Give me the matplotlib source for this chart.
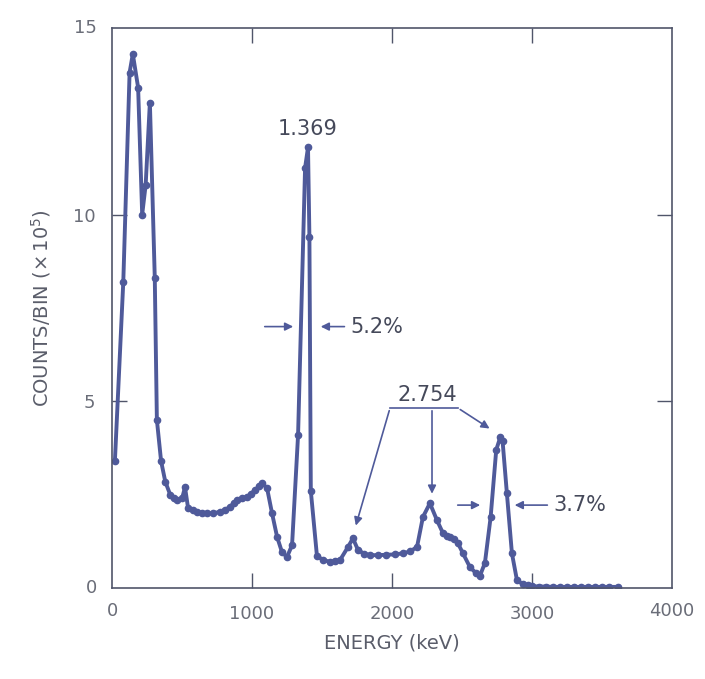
import numpy as np
from matplotlib import pyplot as plt

energy = [20, 80, 125, 148, 186, 215, 240, 270, 305, 320, 350, 380, 415, 440, 465, 500, 521,
          543, 575, 607, 640, 680, 720, 770, 810, 843, 870, 893, 930, 964, 990, 1021, 1050,
          1071, 1107, 1143, 1179, 1214, 1250, 1286, 1329, 1379, 1400, 1410, 1420, 1464,
          1510, 1557, 1595, 1629, 1686, 1721, 1757, 1800, 1843, 1900, 1960, 2020, 2079, 2130,
          2179, 2221, 2271, 2321, 2364, 2390, 2414, 2440, 2471, 2507, 2557, 2600, 2629, 2664,
          2705, 2745, 2775, 2790, 2821, 2857, 2893, 2936, 2970, 3000, 3050, 3100, 3150, 3200,
          3250, 3300, 3350, 3400, 3450, 3500, 3550, 3614]
counts = [3.4, 8.2, 13.8, 14.3, 13.4, 10.0, 10.8, 13.0, 8.3, 4.5, 3.4, 2.85, 2.5, 2.42, 2.36, 2.4, 2.7,
          2.14, 2.08, 2.04, 2.01, 2.0, 2.0, 2.04, 2.1, 2.17, 2.28, 2.36, 2.4, 2.44, 2.52, 2.62, 2.72,
          2.8, 2.68, 2.0, 1.37, 0.96, 0.83, 1.15, 4.1, 11.25, 11.8, 9.4, 2.6, 0.85,
          0.75, 0.7, 0.72, 0.75, 1.1, 1.33, 1.02, 0.92, 0.88, 0.88, 0.89, 0.9, 0.93, 0.98,
          1.1, 1.9, 2.27, 1.82, 1.47, 1.4, 1.37, 1.3, 1.2, 0.93, 0.56, 0.4, 0.33, 0.67,
          1.9, 3.7, 4.05, 3.95, 2.54, 0.93, 0.21, 0.1, 0.07, 0.05, 0.04, 0.04, 0.03, 0.03,
          0.03, 0.03, 0.03, 0.03, 0.03, 0.03, 0.03, 0.03]

line_c = '#4f5a9a'
text_c = '#45495a'
frame_c = '#50556a'

fig = plt.figure(figsize=(7.05, 6.79), dpi=100)
ax = fig.add_axes([0.159, 0.134, 0.794, 0.825])

ax.plot(energy, counts, color=line_c, lw=2.8, marker='o', ms=4.5, mfc=line_c, mec=line_c)

ax.set_xlim(0, 4000)
ax.set_ylim(0, 15)
ax.set_xticks([1000, 2000, 3000])
ax.set_yticks([5, 10])
ax.tick_params(direction='in', length=11, width=1, top=True, right=True,
               colors=frame_c, labelcolor='#6a6d78', labelsize=13, pad=12)
for s in ax.spines.values():
    s.set_color(frame_c)
    s.set_linewidth(1.2)

# edge tick labels without tick marks
lab = dict(fontsize=13, color='#6a6d78', transform=ax.transAxes)
ax.text(0, -0.041, '0', ha='center', va='center', **lab)
ax.text(1, -0.041, '4000', ha='center', va='center', **lab)
ax.text(-0.027, 0, '0', ha='right', va='center', **lab)
ax.text(-0.027, 1, '15', ha='right', va='center', **lab)

ax.set_xlabel('ENERGY (keV)', fontsize=14, color='#5a5d6a', labelpad=8)
ax.set_ylabel(r'COUNTS/BIN ($\times\,10^5$)', fontsize=14, color='#5a5d6a', labelpad=14)

# peak labels
ax.text(1400, 12.3, '1.369', ha='center', va='center', fontsize=15, color=text_c)
ax.text(2250, 5.17, '2.754', ha='center', va='center', fontsize=15, color=text_c)

ap = dict(arrowstyle='-|>', color=line_c, lw=1.2, mutation_scale=12)
# FWHM 5.2%
ax.annotate('', xy=(1314, 7.0), xytext=(1071, 7.0), arrowprops=ap)
ax.annotate('5.2%', xy=(1471, 7.0), xytext=(1700, 7.0), va='center', fontsize=15,
            color=text_c, arrowprops=ap)
# FWHM 3.7%
ax.annotate('', xy=(2650, 2.22), xytext=(2450, 2.22), arrowprops=ap)
ax.annotate('3.7%', xy=(2857, 2.22), xytext=(3150, 2.22), va='center', fontsize=15,
            color=text_c, arrowprops=ap)

# 2.754 bracket
ax.plot([1986, 2471], [4.82, 4.82], color=line_c, lw=1.2)
ax.annotate('', xy=(1736, 1.6), xytext=(1986, 4.82), arrowprops=ap)
ax.annotate('', xy=(2286, 2.45), xytext=(2286, 4.82), arrowprops=ap)
ax.annotate('', xy=(2714, 4.23), xytext=(2471, 4.82), arrowprops=ap)

plt.savefig('out.png', dpi=100)
